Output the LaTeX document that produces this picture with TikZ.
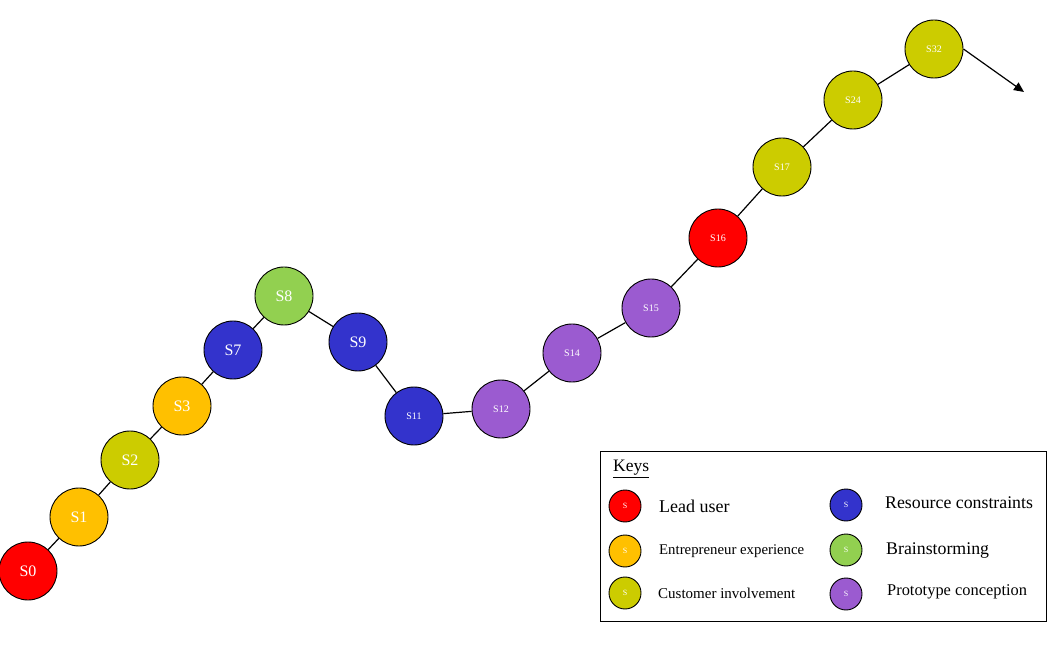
\documentclass[tikz,border=0pt]{standalone}
\usepackage{fontspec}
\setmainfont{Liberation Serif}
\usepackage{tikz}
\usetikzlibrary{positioning,arrows.meta}
\definecolor{leadred}{HTML}{FF0000}
\definecolor{entorange}{HTML}{FFC000}
\definecolor{custolive}{HTML}{CCCC00}
\definecolor{resblue}{HTML}{3333CC}
\definecolor{braingreen}{HTML}{92D050}
\definecolor{protopurple}{HTML}{9B5BD0}

\begin{document}
\begin{tikzpicture}[
  x=1pt, y=-1pt,
  st/.style={circle, draw, line width=0.9pt, minimum size=58pt, inner sep=0pt,
             text=white, font=\fontsize{16}{16}\selectfont},
  sst/.style={st, font=\fontsize{10}{10}\selectfont},
  key/.style={circle, draw, line width=0.9pt, minimum size=32pt, inner sep=0pt,
              text=white, font=\fontsize{8}{8}\selectfont},
  keytxt/.style={anchor=west, inner sep=0pt},
  link/.style={line width=1.2pt}
]
\useasboundingbox (0,0) rectangle (1053,660);
% path of steps
\node[st, fill=leadred] (s0) at (28,571) {S0};
\node[st, fill=entorange] (s1) at (79,517) {S1};
\node[st, fill=custolive] (s2) at (130,460) {S2};
\node[st, fill=entorange] (s3) at (182,406) {S3};
\node[st, fill=resblue] (s7) at (233,350) {S7};
\node[st, fill=braingreen] (s8) at (284,296) {S8};
\node[st, fill=resblue] (s9) at (358,342) {S9};
\node[sst, fill=resblue] (s11) at (414,416) {S11};
\node[sst, fill=protopurple] (s12) at (501,409) {S12};
\node[sst, fill=protopurple] (s14) at (572,353) {S14};
\node[sst, fill=protopurple] (s15) at (651,308) {S15};
\node[sst, fill=leadred] (s16) at (718,238) {S16};
\node[sst, fill=custolive] (s17) at (782,167) {S17};
\node[sst, fill=custolive] (s24) at (853,100) {S24};
\node[sst, fill=custolive] (s32) at (934,49) {S32};
\coordinate (next) at (1024,92);
\draw[link] (s0) -- (s1) -- (s2) -- (s3) -- (s7) -- (s8) -- (s9) -- (s11)
  -- (s12) -- (s14) -- (s15) -- (s16) -- (s17) -- (s24) -- (s32);
\draw[link, -{Triangle[length=10pt,width=9pt]}] (s32.east) -- (next);
% keys
\node[draw, line width=0.9pt, anchor=north west, minimum width=446pt,
      minimum height=170pt, inner sep=0pt] (keys) at (600,451) {};
\node[anchor=west, inner sep=0pt, font=\fontsize{17.5}{17.5}\selectfont]
  (keyhead) at (613,469) {\underline{Keys}};
\node[key, fill=leadred] (klead) at (625,506) {S};
\node[key, fill=entorange] (kent) at (625,551) {S};
\node[key, fill=custolive] (kcust) at (625,593) {S};
\node[key, fill=resblue] (kres) at (846,505) {S};
\node[key, fill=braingreen] (kbrain) at (846,550) {S};
\node[key, fill=protopurple] (kproto) at (846,594) {S};
\node[keytxt, font=\fontsize{18}{18}\selectfont] at (659,506) {Lead user};
\node[keytxt, font=\fontsize{14.8}{14.8}\selectfont] at (659,551) {Entrepreneur experience};
\node[keytxt, font=\fontsize{15}{15}\selectfont] at (658,593) {Customer involvement};
\node[keytxt, font=\fontsize{17.8}{17.8}\selectfont] at (885,503) {Resource constraints};
\node[keytxt, font=\fontsize{17.8}{17.8}\selectfont] at (886,551) {Brainstorming};
\node[keytxt, font=\fontsize{16.4}{16.4}\selectfont] at (887,592) {Prototype conception};
\end{tikzpicture}
\end{document}
